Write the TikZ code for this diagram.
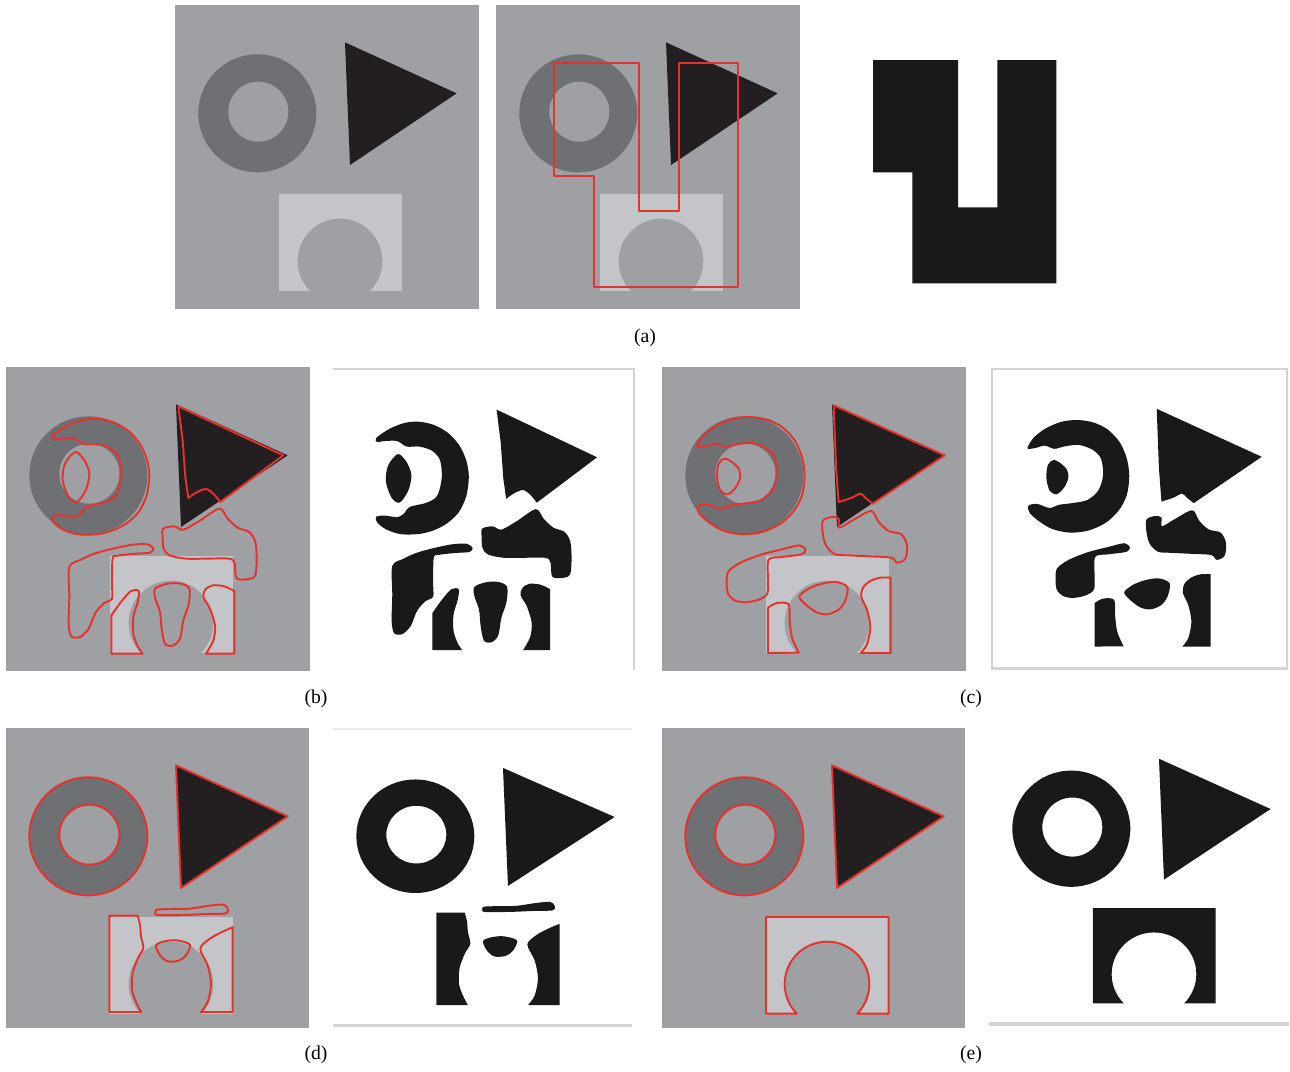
\documentclass[tikz,border=0pt]{standalone}
\usepackage{fontspec}
\setmainfont{Liberation Serif}
\usetikzlibrary{positioning}
\definecolor{bggray}{HTML}{9EA0A4}
\definecolor{ringgray}{HTML}{6E7074}
\definecolor{rectgray}{HTML}{C3C5C8}
\definecolor{trigray}{HTML}{231F20}
\definecolor{segred}{HTML}{E5322F}
\definecolor{framegray}{HTML}{D4D4D4}
\tikzset{
  contour/.style={draw=segred, line width=0.55pt, line join=round},
  maskfill/.style={fill=black!90, even odd rule},
  panelframe/.style={draw=framegray, line width=0.6pt},
  sublabel/.style={font=\fontsize{5.6}{6}\selectfont, inner sep=0pt}
}
% the synthetic test image (coordinates are 3x panel pixels)
\newcommand{\testscene}{
  \fill[ringgray] (247,325) circle (177);
  \fill[bggray] (250,320) circle (90);
  \fill[trigray] (510,112) -- (845,265) -- (525,480) -- cycle;
  \fill[rectgray] (312,567) rectangle (680,857);
  \fill[bggray] (495,768) circle (127);
}
% initial contour
\newcommand{\contourA}{(175,175) -- (430,175) -- (430,617) -- (548,617) -- (548,175) -- (725,175) -- (725,845) -- (293,845) -- (293,512) -- (175,512) -- cycle}
% contours, first result
\newcommand{\contourB}{
  plot[smooth cycle, tension=0.5] coordinates {(140,205) (180,178) (225,160) (270,155) (320,165) (365,190) (400,228) (422,275) (430,325) (422,385) (398,435) (360,470) (315,492) (270,502) (215,502) (170,487) (142,465) (140,448) (170,445) (205,450) (225,440) (245,418) (295,406) (330,385) (345,330) (340,275) (315,245) (275,232) (235,232) (205,215) (165,215) (142,218)}
  plot[smooth cycle, tension=0.5] coordinates {(208,255) (235,280) (250,320) (240,368) (213,405) (188,390) (170,340) (177,290)}
  (517,118) -- (832,265) -- (643,405) -- plot[smooth] coordinates {(643,405) (622,380) (600,366) (572,376) (547,393)} -- (538,330) -- (530,220) -- cycle
  plot[smooth cycle, tension=0.5] coordinates {(472,485) (505,478) (532,488) (580,462) (640,425) (665,455) (695,482) (730,495) (748,525) (752,575) (748,625) (730,636) (692,634) (686,590) (670,575) (600,575) (540,575) (490,565) (473,545) (470,510)}
  plot[smooth cycle, tension=0.5] coordinates {(190,600) (225,578) (265,560) (320,545) (380,533) (425,532) (442,545) (432,557) (390,560) (335,566) (320,575) (318,650) (318,695) (295,708) (268,738) (248,785) (222,810) (196,808) (188,770) (190,690)}
  (316,860) -- (316,745) -- plot[smooth] coordinates {(316,745) (345,705) (375,672) (398,672) (395,705) (382,750) (382,800) (395,838) (410,860)} -- cycle
  plot[smooth cycle, tension=0.5] coordinates {(447,665) (485,650) (525,650) (550,665) (548,712) (532,760) (522,815) (500,836) (477,830) (467,785) (462,735) (448,695)}
  (685,860) -- (685,672) -- plot[smooth] coordinates {(685,672) (655,658) (620,655) (598,668) (592,690) (612,725) (627,775) (622,820) (600,860)} -- cycle
}
% contours, second result
\newcommand{\contourC}{
  plot[smooth cycle, tension=0.5] coordinates {(105,238) (125,205) (165,175) (215,155) (265,150) (315,158) (360,180) (398,220) (420,270) (428,325) (420,385) (395,432) (355,470) (300,495) (240,502) (182,490) (140,465) (112,440) (108,418) (135,412) (175,425) (205,415) (245,410) (295,400) (330,370) (345,322) (338,270) (310,242) (268,228) (225,232) (190,240) (160,230) (128,238)}
  plot[smooth cycle, tension=0.5] coordinates {(188,275) (210,285) (230,305) (235,330) (222,360) (198,382) (175,370) (165,330) (170,290)}
  (515,115) -- (848,265) -- (632,410) -- plot[smooth] coordinates {(632,410) (610,392) (595,380) (570,392) (530,405)} -- (522,300) -- cycle
  plot[smooth cycle, tension=0.5] coordinates {(482,462) (510,450) (530,455) (532,482) (575,458) (628,432) (650,465) (680,492) (718,502) (735,535) (730,575) (705,587) (688,572) (620,568) (560,565) (520,562) (495,540) (484,510)}
  plot[smooth cycle, tension=0.5] coordinates {(200,612) (240,585) (300,562) (360,547) (412,535) (430,548) (418,562) (360,570) (320,578) (318,640) (316,680) (290,698) (250,706) (218,700) (198,680) (194,645)}
  (318,858) -- (318,722) -- plot[smooth] coordinates {(318,722) (345,708) (380,712) (383,760) (390,812) (410,857)} -- cycle
  plot[smooth cycle, tension=0.5] coordinates {(412,688) (440,665) (480,650) (522,645) (556,660) (550,700) (530,728) (495,742) (462,735) (428,710)}
  (686,858) -- (686,632) -- plot[smooth] coordinates {(686,632) (655,632) (625,642) (603,662) (598,690) (615,728) (625,780) (615,832) (596,858)} -- cycle
}
% contours, third result
\newcommand{\contourD}{
  (247,325) circle (177) (250,320) circle (90)
  (510,112) -- (845,265) -- (525,480) -- cycle
  plot[smooth cycle, tension=0.5] coordinates {(452,545) (490,543) (550,542) (610,533) (652,530) (665,542) (660,556) (600,558) (530,561) (455,561) (448,553)}
  (310,852) -- (310,563) -- (395,563) -- plot[smooth] coordinates {(395,563) (402,590) (405,625) (412,660) (396,690) (380,735) (378,785) (390,822) (405,852)} -- cycle
  (680,852) -- (680,598) -- plot[smooth] coordinates {(680,598) (648,612) (612,632) (583,662) (605,712) (615,768) (605,822) (585,852)} -- cycle
  plot[smooth cycle, tension=0.5] coordinates {(450,652) (475,640) (512,637) (552,650) (540,682) (518,698) (485,700) (462,682)}
}
% contours, proposed method
\newcommand{\contourE}{
  (247,325) circle (177) (250,320) circle (90)
  (510,112) -- (845,265) -- (525,480) -- cycle
  (312,857) -- (312,567) -- (680,567) -- (680,857) -- (585.6,857) arc[start angle=44.5, end angle=-224.5, radius=127] -- cycle
}

\begin{document}
\begin{tikzpicture}[x=0.01cm, y=-0.01cm]
  \useasboundingbox (0,0) rectangle (1290,1072);

  % row (a)
  \fill[bggray] (175,5) rectangle (479,309);
  \begin{scope}[shift={(175,5)}, scale=1/3]
    \testscene
  \end{scope}
  \fill[bggray] (496,5) rectangle (800,309);
  \begin{scope}[shift={(496,5)}, scale=1/3]
    \testscene
    \draw[contour] \contourA;
  \end{scope}
  \begin{scope}[shift={(814.67,1.67)}, scale=1/3]
    \fill[black!90] \contourA;
  \end{scope}
  \node[sublabel] (capa) at (645,338) {(a)};

  % row (b) (c)
  \fill[bggray] (6,367) rectangle (310,671);
  \begin{scope}[shift={(6,367)}, scale=1/3]
    \testscene
    \draw[contour] \contourB;
  \end{scope}
  \draw[panelframe] (333,368.7) -- (633.7,368.7) -- (633.7,670);
  \begin{scope}[shift={(331.67,371.33)}, xscale=0.319, yscale=0.3243]
    \fill[maskfill] \contourB;
  \end{scope}
  \node[sublabel] (capb) at (316,699) {(b)};

  \fill[bggray] (662,367) rectangle (966,671);
  \begin{scope}[shift={(662,367)}, scale=1/3]
    \testscene
    \draw[contour] \contourC;
  \end{scope}
  \draw[panelframe] (991.7,368.7) rectangle (1287.3,668.7);
  \draw[framegray, line width=1pt] (991.7,668.7) -- (1287.3,668.7);
  \begin{scope}[shift={(994.33,372)}, xscale=0.3153, yscale=0.32]
    \fill[maskfill] \contourC;
  \end{scope}
  \node[sublabel] (capc) at (971,699) {(c)};

  % row (d) (e)
  \fill[bggray] (6,728) rectangle (309,1028);
  \begin{scope}[shift={(6,728)}, scale=1/3]
    \testscene
    \draw[contour] \contourD;
  \end{scope}
  \draw[framegray!50, line width=0.5pt] (333,729) -- (632,729);
  \draw[panelframe, line width=1pt] (333,1025.7) -- (632,1025.7);
  \begin{scope}[shift={(333,732)}, xscale=0.3333, yscale=0.3207]
    \fill[maskfill] \contourD;
  \end{scope}
  \node[sublabel] (capd) at (316,1055) {(d)};

  \fill[bggray] (662,728) rectangle (965,1028);
  \begin{scope}[shift={(662,728)}, scale=1/3]
    \testscene
    \draw[contour] \contourE;
  \end{scope}
  \draw[panelframe, line width=1pt] (989,1024) -- (1289,1024);
  \begin{scope}[shift={(989,722)}, xscale=0.3333, yscale=0.3283]
    \fill[maskfill] \contourE;
  \end{scope}
  \node[sublabel] (cape) at (971,1055) {(e)};
\end{tikzpicture}
\end{document}
